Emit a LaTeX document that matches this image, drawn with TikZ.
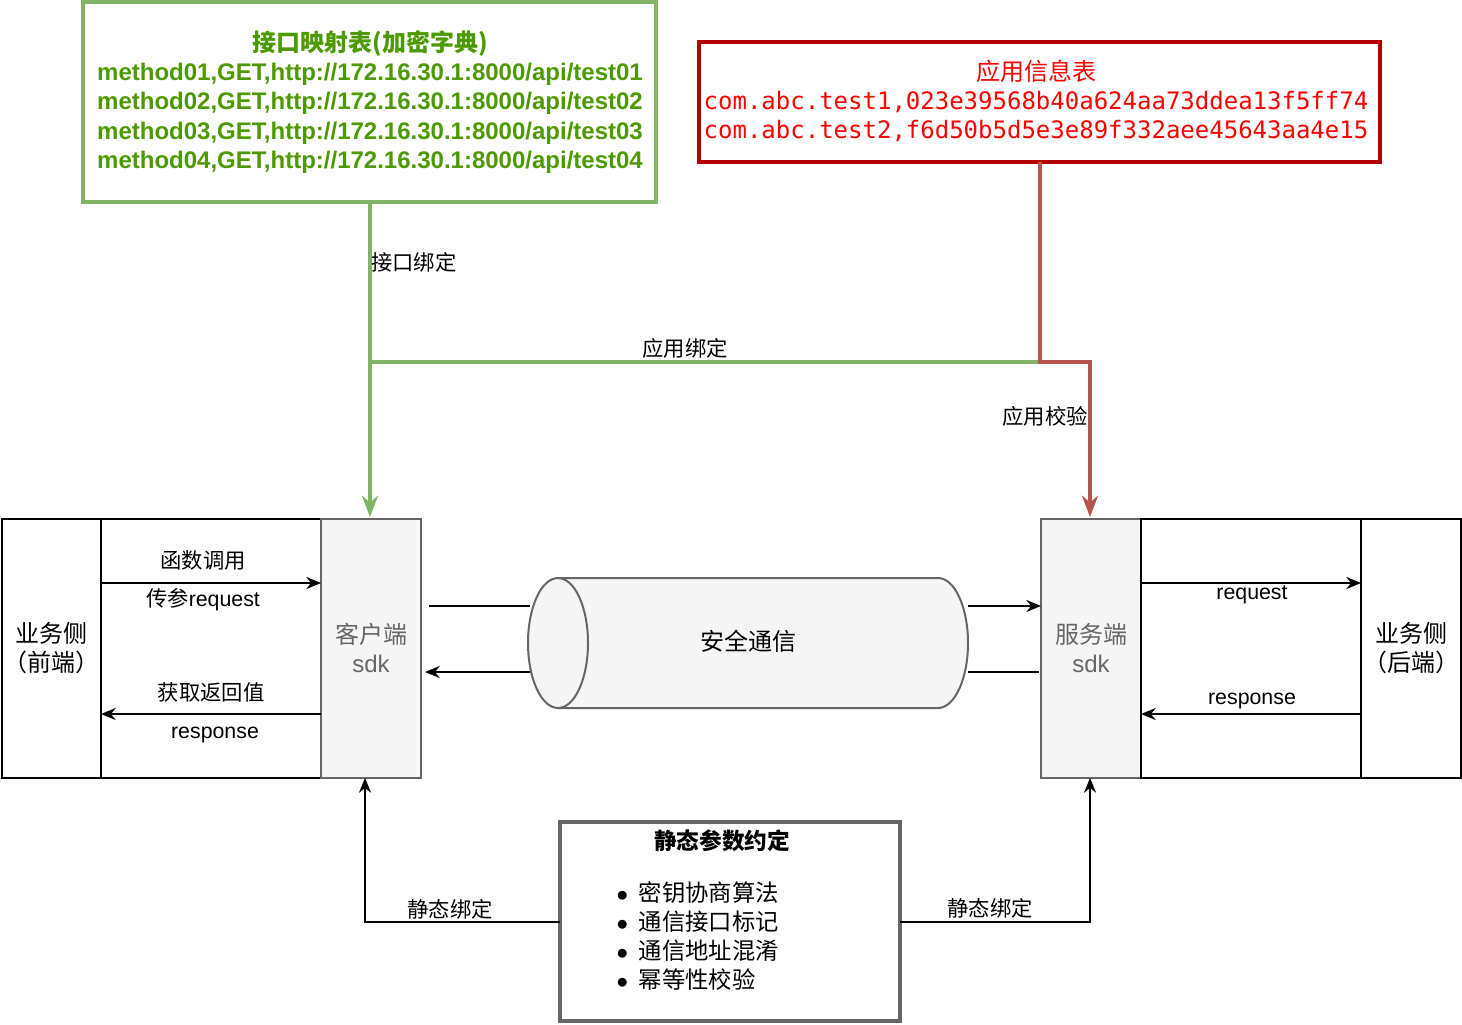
\documentclass[tikz,border=0pt]{standalone}
\usepackage{fontspec}
\setmainfont{Noto Sans CJK SC}
\newfontfamily\latinb{Liberation Sans}
\newfontfamily\monof{DejaVu Sans Mono}
\usetikzlibrary{arrows.meta,shapes.geometric}
\definecolor{gline}{HTML}{82B366}
\definecolor{gtext}{HTML}{4D9900}
\definecolor{rline}{HTML}{B85450}
\definecolor{rbox}{HTML}{B20000}
\definecolor{sdkfill}{HTML}{F5F5F5}
\definecolor{sdkline}{HTML}{666666}
\tikzset{
  box/.style={draw=black, line width=1.5pt},
  sdk/.style={draw=sdkline, fill=sdkfill, line width=1.5pt},
  conn/.style={line width=1.5pt, -{Stealth[length=11pt,width=9pt]}},
  lbl/.style={inner sep=0.75pt, font=\fontsize{16}{18}\selectfont},
}
\begin{document}
\begin{tikzpicture}[x=0.75pt,y=0.75pt,yscale=-1,xscale=1]
\useasboundingbox (0,0) rectangle (1462,1024);

% top tables
\draw [gline, line width=2.6pt] (83,2) rectangle (656,202);
\node (map) [text=gtext, align=center, font=\fontsize{18}{21.8}\selectfont\bfseries] at (370,102)
  {接口映射表(加密字典)\\
   {\latinb method01,GET,http://172.16.30.1:8000/api/test01}\\
   {\latinb method02,GET,http://172.16.30.1:8000/api/test02}\\
   {\latinb method03,GET,http://172.16.30.1:8000/api/test03}\\
   {\latinb method04,GET,http://172.16.30.1:8000/api/test04}};
\draw [rbox, line width=2.6pt] (699,42) rectangle (1380,162);
\node (info) [text=red, align=center, font=\fontsize{18}{21.8}\selectfont] at (1036,101)
  {应用信息表\\
   {\monof com.abc.test1,023e39568b40a624aa73ddea13f5ff74}\\
   {\monof com.abc.test2,f6d50b5d5e3e89f332aee45643aa4e15}};

% front side
\draw [box] (2,519) rectangle (101,778);
\draw [box] (101,519) rectangle (321,778);
\draw [sdk] (321,519) rectangle (421,778);
\node (fe) [align=center, font=\fontsize{18}{22}\selectfont] at (51,648) {业务侧\\（前端）};
\node (cli) [align=center, text=sdkline, font=\fontsize{18}{22}\selectfont] at (371,648) {客户端\\{\latinb sdk}};

% back side
\draw [sdk] (1041,519) rectangle (1141,778);
\draw [box] (1141,519) rectangle (1361,778);
\draw [box] (1361,519) rectangle (1461,778);
\node (srv) [align=center, text=sdkline, font=\fontsize{18}{22}\selectfont] at (1091,648) {服务端\\{\latinb sdk}};
\node (be) [align=center, font=\fontsize{18}{22}\selectfont] at (1411,648) {业务侧\\（后端）};

% calls inside
\coordinate (fa) at (101,583); \coordinate (fb) at (321,583);
\coordinate (fc) at (321,714); \coordinate (fd) at (101,714);
\draw [conn] (fa) -- (fb);
\draw [conn] (fc) -- (fd);
\node [lbl] at (203,560) {函数调用};
\node [lbl] at (203,600) {传参{\latinb request}};
\node [lbl] at (211,692) {获取返回值};
\node [lbl] at (215,735) {\latinb response};
\coordinate (ba) at (1141,583); \coordinate (bb) at (1361,583);
\coordinate (bc) at (1361,714); \coordinate (bd) at (1141,714);
\draw [conn] (ba) -- (bb);
\draw [conn] (bc) -- (bd);
\node [lbl] at (1252,595) {\latinb request};
\node [lbl] at (1252,701) {\latinb response};

% channel
\draw [sdkline, fill=sdkfill, line width=1.5pt] (558,578) -- (938,578)
  .. controls (954.6,578) and (968,607.1) .. (968,643)
  .. controls (968,678.9) and (954.6,708) .. (938,708) -- (558,708)
  .. controls (541.4,708) and (528,678.9) .. (528,643)
  .. controls (528,607.1) and (541.4,578) .. (558,578) -- cycle;
\draw [sdkline, line width=1.5pt] (558,578)
  .. controls (574.6,578) and (588,607.1) .. (588,643)
  .. controls (588,678.9) and (574.6,708) .. (558,708);
\node (tun) [font=\fontsize{18}{22}\selectfont] at (748,641) {安全通信};
\coordinate (t1) at (429,606); \coordinate (t2) at (530,606);
\coordinate (t3) at (968,606); \coordinate (t4) at (1041,606);
\coordinate (t5) at (530,672); \coordinate (t6) at (425,672);
\coordinate (t7) at (1039,672); \coordinate (t8) at (968,672);
\draw [line width=1.5pt] (t1) -- (t2);
\draw [conn] (t3) -- (t4);
\draw [conn] (t5) -- (t6);
\draw [line width=1.5pt] (t7) -- (t8);

% bindings from the tables
\coordinate (gj) at (370,362);
\coordinate (rj) at (1040,362);
\coordinate (rk) at (1090,362);
\draw [gline, line width=2.4pt] (370,202) -- (gj) -- (rj);
\draw [gline, line width=2.4pt, -{Stealth[length=16pt,width=12pt]}] (gj) -- (370,517);
\draw [rline, line width=2.4pt, -{Stealth[length=16pt,width=12pt]}] (1040,162) -- (rj) -- (rk) -- (1090,517);
\node [lbl, anchor=west] at (370,262) {接口绑定};
\node [lbl] at (685,348) {应用绑定};
\node [lbl] at (1045,416) {应用校验};

% static parameters
\draw [sdkline, line width=2.6pt] (560,822) rectangle (900,1021);
\node (stat) [font=\fontsize{17}{20}\selectfont\bfseries] at (722,841) {静态参数约定};
\node (lst) [anchor=north west, align=left, font=\fontsize{17.5}{21.8}\selectfont] at (612,877)
  {$\bullet$\ \ 密钥协商算法\\$\bullet$\ \ 通信接口标记\\$\bullet$\ \ 通信地址混淆\\$\bullet$\ \ 幂等性校验};
\coordinate (sl) at (560,922); \coordinate (slc) at (365,922);
\coordinate (sr) at (900,922); \coordinate (src) at (1090,922);
\draw [conn] (sl) -- (slc) -- (365,778);
\draw [conn] (sr) -- (src) -- (1090,778);
\node [lbl] at (450,909) {静态绑定};
\node [lbl] at (990,908) {静态绑定};
\end{tikzpicture}
\end{document}
